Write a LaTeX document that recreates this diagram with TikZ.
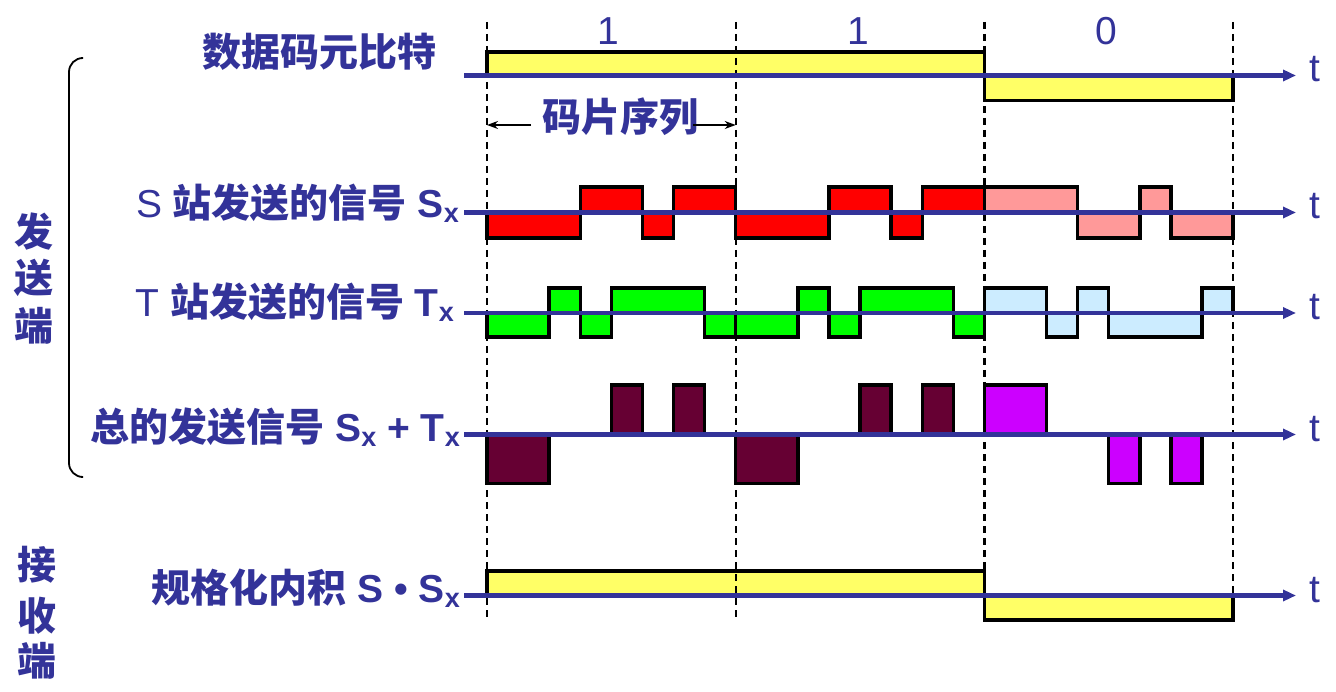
\documentclass[tikz,border=0pt]{standalone}
\usepackage{fontspec}
\setmainfont{Liberation Sans}
\newfontfamily\cjk{Noto Sans CJK SC}
\usetikzlibrary{arrows.meta}
\definecolor{tblue}{RGB}{51,51,153}
\definecolor{cyel}{RGB}{255,255,102}
\definecolor{cred}{RGB}{255,0,0}
\definecolor{cpink}{RGB}{255,153,153}
\definecolor{cgreen}{RGB}{0,255,0}
\definecolor{clblue}{RGB}{204,236,255}
\definecolor{cmaroon}{RGB}{102,0,51}
\definecolor{cpurple}{RGB}{204,0,255}
\newcommand\subx[1]{\raisebox{-5pt}{\fontsize{27}{27}\selectfont\bfseries #1}}
\newcommand\zh[1]{{\cjk\bfseries #1}}
\tikzset{
  lab/.style={text=tblue, font=\fontsize{39}{46}\selectfont, inner sep=0pt},
  axisline/.style={draw=tblue, line width=4.5pt, -{Triangle[length=13pt,width=11pt]}},
  sig/.style={draw=black, line width=3.4pt},
  bitgrid/.style={draw=black, line width=2.3pt, dash pattern=on 7pt off 5pt},
  tlab/.style={text=tblue, font=\fontsize{39}{39}\selectfont, inner sep=0pt, anchor=base west},
  dimarrow/.style={draw=black, line width=1.6pt, -{Stealth[length=11pt,width=8pt]}}
}
\begin{document}
\begin{tikzpicture}[x=1pt,y=-1pt]
\useasboundingbox (0,0) rectangle (1336,692);

% ---- signals (x in chip units) ----
\begin{scope}[shift={(487,0)}, x=31.0875pt]
  % data bits
  \filldraw[sig, fill=cyel] (0,52) rectangle (16,75.5);
  \filldraw[sig, fill=cyel] (16,75.5) rectangle (24,100.5);
  % S signal
  \filldraw[sig, fill=cred] (0,212.5) rectangle (3,238);
  \filldraw[sig, fill=cred] (3,187) rectangle (5,212.5);
  \filldraw[sig, fill=cred] (5,212.5) rectangle (6,238);
  \filldraw[sig, fill=cred] (6,187) rectangle (8,212.5);
  \filldraw[sig, fill=cred] (8,212.5) rectangle (11,238);
  \filldraw[sig, fill=cred] (11,187) rectangle (13,212.5);
  \filldraw[sig, fill=cred] (13,212.5) rectangle (14,238);
  \filldraw[sig, fill=cred] (14,187) rectangle (16,212.5);
  \filldraw[sig, fill=cpink] (16,187) rectangle (19,212.5);
  \filldraw[sig, fill=cpink] (19,212.5) rectangle (21,238);
  \filldraw[sig, fill=cpink] (21,187) rectangle (22,212.5);
  \filldraw[sig, fill=cpink] (22,212.5) rectangle (24,238);
  % T signal
  \filldraw[sig, fill=cgreen] (0,313) rectangle (2,337);
  \filldraw[sig, fill=cgreen] (2,288) rectangle (3,313);
  \filldraw[sig, fill=cgreen] (3,313) rectangle (4,337);
  \filldraw[sig, fill=cgreen] (4,288) rectangle (7,313);
  \filldraw[sig, fill=cgreen] (7,313) rectangle (8,337);
  \filldraw[sig, fill=cgreen] (8,313) rectangle (10,337);
  \filldraw[sig, fill=cgreen] (10,288) rectangle (11,313);
  \filldraw[sig, fill=cgreen] (11,313) rectangle (12,337);
  \filldraw[sig, fill=cgreen] (12,288) rectangle (15,313);
  \filldraw[sig, fill=cgreen] (15,313) rectangle (16,337);
  \filldraw[sig, fill=clblue] (16,288) rectangle (18,313);
  \filldraw[sig, fill=clblue] (18,313) rectangle (19,337);
  \filldraw[sig, fill=clblue] (19,288) rectangle (20,313);
  \filldraw[sig, fill=clblue] (20,313) rectangle (23,337);
  \filldraw[sig, fill=clblue] (23,288) rectangle (24,313);
  % sum signal
  \filldraw[sig, fill=cmaroon] (0,434.5) rectangle (2,483.5);
  \filldraw[sig, fill=cmaroon] (4,385) rectangle (5,434.5);
  \filldraw[sig, fill=cmaroon] (6,385) rectangle (7,434.5);
  \filldraw[sig, fill=cmaroon] (8,434.5) rectangle (10,483.5);
  \filldraw[sig, fill=cmaroon] (12,385) rectangle (13,434.5);
  \filldraw[sig, fill=cmaroon] (14,385) rectangle (15,434.5);
  \filldraw[sig, fill=cpurple] (16,385) rectangle (18,434.5);
  \filldraw[sig, fill=cpurple] (20,434.5) rectangle (21,483.5);
  \filldraw[sig, fill=cpurple] (22,434.5) rectangle (23,483.5);
  % inner product
  \filldraw[sig, fill=cyel] (0,571) rectangle (16,595.5);
  \filldraw[sig, fill=cyel] (16,595.5) rectangle (24,620);
  % bit boundaries
  \foreach \k in {0,8,16,24} \draw[bitgrid] (\k,22) -- (\k,617);
\end{scope}

% ---- axes ----
\foreach \n/\y in {d/75.5, s/212.5, t/313, m/434.5, p/595.5}{
  \coordinate (\n0) at (464,\y);
  \coordinate (\n1) at (1296,\y);
  \draw[axisline] (\n0) -- (\n1);
  \node[tlab] (t\n) at (1309,\y+6.5) {t};
}

% ---- bit labels ----
\node[lab, anchor=base] (b1) at (608,45) {1};
\node[lab, anchor=base] (b2) at (858,45) {1};
\node[lab, anchor=base] (b3) at (1106,45) {0};

% ---- chip sequence label ----
\node[lab, anchor=base] (cp) at (620,132) {\zh{码片序列}};
\coordinate (cpa) at (531,125);
\coordinate (cpb) at (487,125);
\coordinate (cpc) at (693,125);
\coordinate (cpd) at (735.7,125);
\draw[dimarrow] (cpa) -- (cpb);
\draw[dimarrow] (cpc) -- (cpd);

% ---- row labels ----
\node[lab, anchor=base east] (ld) at (437,67) {\zh{数据码元比特}};
\node[lab, anchor=base east] (ls) at (459,218) {S \zh{站发送的信号} \textbf{S}\subx{x}};
\node[lab, anchor=base east] (lt) at (454,317) {T \zh{站发送的信号} \textbf{T}\subx{x}};
\node[lab, anchor=base east] (lm) at (460,442) {\zh{总的发送信号} \textbf{S}\subx{x} \textbf{+} \textbf{T}\subx{x}};
\node[lab, anchor=base east] (lp) at (460,602) {\zh{规格化内积} \textbf{S} \textbf{\textbullet} \textbf{S}\subx{x}};

% ---- left side ----
\draw[black, line width=1.8pt, rounded corners=14pt] (81,58) -- (69,58) -- (69,477) -- (81,477);
\node[lab, anchor=base] (f1) at (34,247) {\zh{发}};
\node[lab, anchor=base] (f2) at (34,293) {\zh{送}};
\node[lab, anchor=base] (f3) at (34,341) {\zh{端}};
\node[lab, anchor=base] (r1) at (37,579) {\zh{接}};
\node[lab, anchor=base] (r2) at (37,630) {\zh{收}};
\node[lab, anchor=base] (r3) at (37,675) {\zh{端}};
\end{tikzpicture}
\end{document}
